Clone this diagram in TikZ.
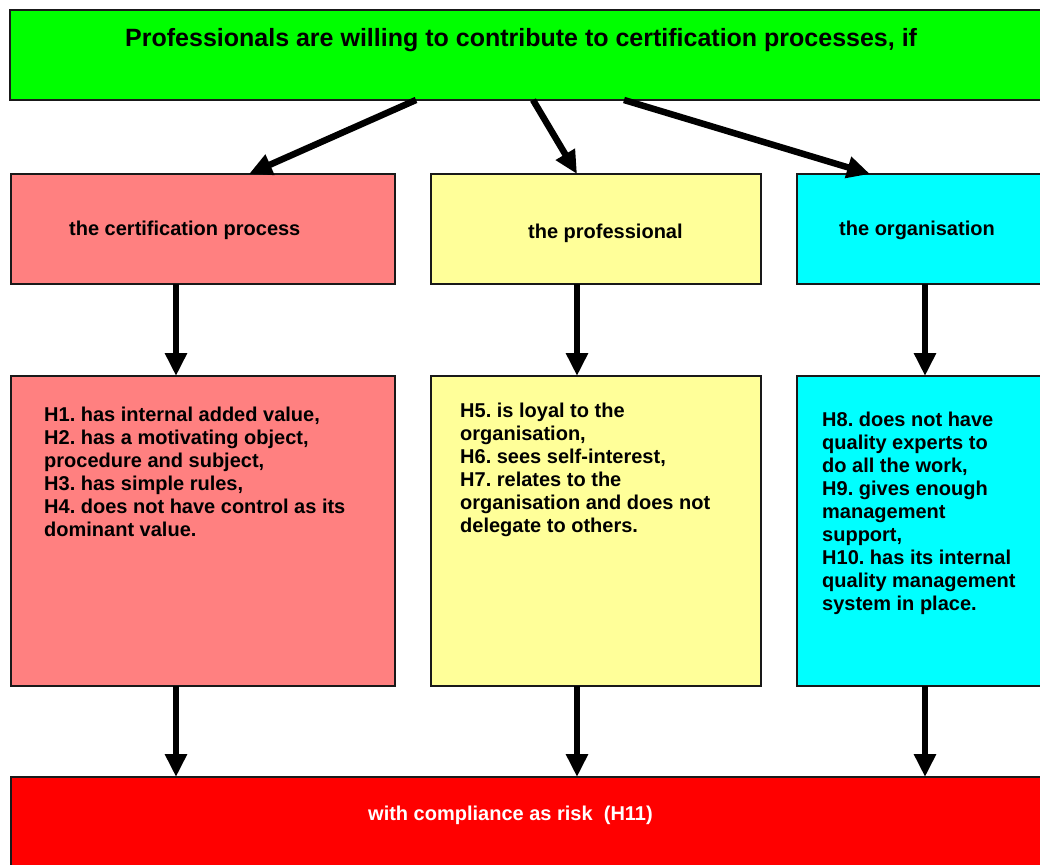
\documentclass[tikz,border=0pt]{standalone}
\usepackage{fontspec}
\setmainfont{Liberation Sans}
\usetikzlibrary{arrows.meta}
\definecolor{topgreen}{HTML}{00FF00}
\definecolor{procred}{HTML}{FF8080}
\definecolor{profyellow}{HTML}{FFFF99}
\definecolor{orgcyan}{HTML}{00FFFF}
\definecolor{riskred}{HTML}{FF0000}
\frenchspacing
\begin{document}
\begin{tikzpicture}[x=1pt,y=-1pt,
  box/.style={draw=black!90, line width=1.5pt, inner sep=0pt, outer sep=0pt, anchor=north west},
  lbl/.style={inner sep=0pt, font=\bfseries\fontsize{20}{23}\selectfont, anchor=base west},
  body/.style={inner sep=0pt, font=\bfseries\fontsize{20}{23}\selectfont, anchor=north west, align=left},
  arr/.style={line width=6.5pt, -{Triangle[length=23pt,width=21pt]}}]
\useasboundingbox (0,0) rectangle (1040,864);
\clip (0,0) rectangle (1040,864);
% boxes
\node[box, fill=topgreen, minimum width=1040pt, minimum height=90pt] (g) at (10,10) {};
\node[box, fill=procred, minimum width=384pt, minimum height=110pt] (p1) at (11,174) {};
\node[box, fill=profyellow, minimum width=330pt, minimum height=110pt] (y1) at (431,174) {};
\node[box, fill=orgcyan, minimum width=260pt, minimum height=110pt] (c1) at (797,174) {};
\node[box, fill=procred, minimum width=384pt, minimum height=310pt] (p2) at (11,376) {};
\node[box, fill=profyellow, minimum width=330pt, minimum height=310pt] (y2) at (431,376) {};
\node[box, fill=orgcyan, minimum width=260pt, minimum height=310pt] (c2) at (797,376) {};
\node[box, fill=riskred, minimum width=1050pt, minimum height=110pt] (r) at (11,777) {};
% texts
\node[lbl, font=\bfseries\fontsize{25}{28}\selectfont] (gt) at (125,47) {Professionals are willing to contribute to certification processes, if};
\node[lbl] (p1t) at (69,235) {the certification process};
\node[lbl] (y1t) at (528,238) {the professional};
\node[lbl] (c1t) at (839,235) {the organisation};
\node[body] (p2t) at (44,407) {H1. has internal added value,\\H2. has a motivating object,\\procedure and subject,\\H3. has simple rules,\\H4. does not have control as its\\dominant value.};
\node[body] (y2t) at (460,403) {H5. is loyal to the\\organisation,\\H6. sees self-interest,\\H7. relates to the\\organisation and does not\\delegate to others.};
\node[body] (c2t) at (822,412) {H8. does not have\\quality experts to\\do all the work,\\H9. gives enough\\management\\support,\\H10. has its internal\\quality management\\system in place.};
\node[lbl, text=white] (rt) at (368,820) {with compliance as risk\ \ (H11)};
% connector x positions
\coordinate (xa) at (176,0);
\coordinate (xb) at (577,0);
\coordinate (xc) at (925,0);
\coordinate (s1) at (416,0);
\coordinate (e1) at (249,0);
\coordinate (s2) at (533,0);
\coordinate (s3) at (624,0);
\coordinate (e3) at (870,0);
% connectors
\draw[arr] (g.south -| s1) -- (p1.north -| e1);
\draw[arr] (g.south -| s2) -- (y1.north -| xb);
\draw[arr] (g.south -| s3) -- (c1.north -| e3);
\draw[arr] (p1.south -| xa) -- (p2.north -| xa);
\draw[arr] (y1.south -| xb) -- (y2.north -| xb);
\draw[arr] (c1.south -| xc) -- (c2.north -| xc);
\draw[arr] (p2.south -| xa) -- (r.north -| xa);
\draw[arr] (y2.south -| xb) -- (r.north -| xb);
\draw[arr] (c2.south -| xc) -- (r.north -| xc);
\end{tikzpicture}
\end{document}
